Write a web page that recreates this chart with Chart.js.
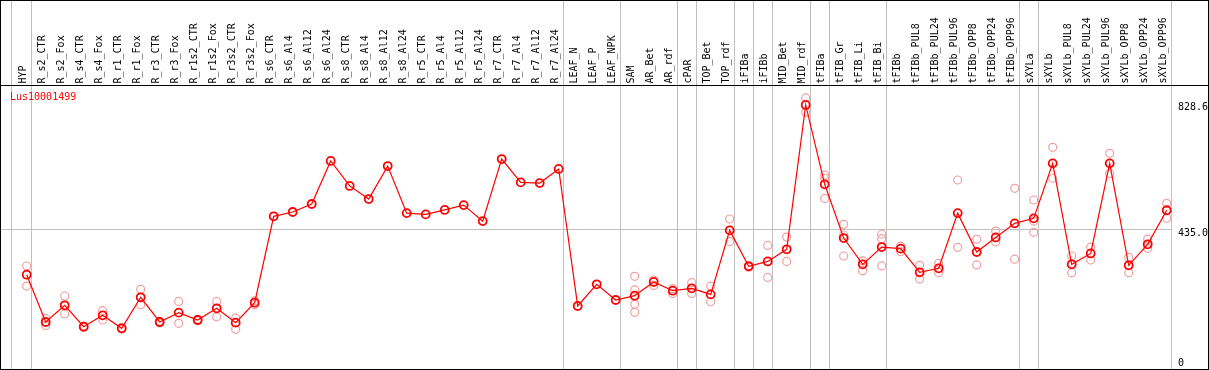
<!DOCTYPE html>
<html>
<head>
<meta charset="utf-8">
<script src="https://cdn.jsdelivr.net/npm/chart.js@4/dist/chart.umd.min.js"></script>
<style>
body{margin:0;background:#fff}
</style>
</head>
<body>
<canvas id="expChart" width="1209" height="370"></canvas>
<script>
const geneName = "Lus10001499";
const samples = ["HYP","R_s2_CTR","R_s2_Fox","R_s4_CTR","R_s4_Fox","R_r1_CTR","R_r1_Fox","R_r3_CTR","R_r3_Fox",
  "R_r1s2_CTR","R_r1s2_Fox","R_r3s2_CTR","R_r3s2_Fox","R_s6_CTR","R_s6_Al4","R_s6_Al12","R_s6_Al24",
  "R_s8_CTR","R_s8_Al4","R_s8_Al12","R_s8_Al24","R_r5_CTR","R_r5_Al4","R_r5_Al12","R_r5_Al24",
  "R_r7_CTR","R_r7_Al4","R_r7_Al12","R_r7_Al24","LEAF_N","LEAF_P","LEAF_NPK","SAM","AR_Bet","AR_rdf",
  "cPAR","TOP_Bet","TOP_rdf","iFIBa","iFIBb","MID_Bet","MID_rdf","tFIBa","tFIB_Gr","tFIB_Li","tFIB_Bi",
  "tFIBb","tFIBb_PUL8","tFIBb_PUL24","tFIBb_PUL96","tFIBb_OPP8","tFIBb_OPP24","tFIBb_OPP96",
  "sXYLa","sXYLb","sXYLb_PUL8","sXYLb_PUL24","sXYLb_PUL96","sXYLb_OPP8","sXYLb_OPP24","sXYLb_OPP96"];
const means = [291.6,143.8,196,129,164.6,124,221,143.8,173,150,186.5,141.7,204,
  474,487.5,512.5,647,569,528,631,484,480,494,509,459,653,580,578,622,
  193.75,261.5,212.5,226,269,241.6,249,230,430,317.7,333,371,822,
  574,406,324,378,373,299,311.5,484,362.5,408,452,
  467.6,639.5,324,358,639.5,321,386.5,493];
const replicates = [[318.8,256],[154,133],[225,169],[131,127],[179,150],[126,122],[246,198],[146,141],[208,139.6],
  [152,148],[208,160],[156,121],[210,198],
  [],[],[],[],[],[],[],[],[],[],[],[],[],[],[],[],
  [],[],[],[286.5,244,199,174],[275,258],[248,233],[266.5,233],[256,207],[465.6,395],[320,315],[383,283],[409,333],[844,799],
  [603,593,530],[449,415.6,350],[335,304],[418,404,319],[381,364],[321,278],[327,298],[587.5,377],[402,322],[428,394],[561.5,340],
  [525,459,424],[689.6,593],[350,298],[378,337.5],[671,608],[346,298],[403,374],[514.6,468]];
// index of last sample in each group (grey separator drawn after it)
const groupEnds = [0,28,31,34,35,37,38,39,41,42,45,52,53,60];
const yTicks = [0,435.0,828.6];
const yTickLabels = ["0","435.0","828.6"];
const gridValue = 435.0;

const meanPts = means.map((v,i)=>({x:i,y:v}));
const repPts = [];
replicates.forEach((r,i)=>r.forEach(v=>repPts.push({x:i,y:v})));

const decor = {
  id:'decor',
  beforeDatasetsDraw(chart){
    const ctx = chart.ctx, xs = chart.scales.x, ys = chart.scales.y;
    const H = chart.height;
    ctx.save();
    ctx.strokeStyle = '#c0c0c0';
    ctx.lineWidth = 1;
    const lastSep = Math.round(xs.getPixelForValue(groupEnds[groupEnds.length-1])) + 4;
    const gy = Math.round(ys.getPixelForValue(gridValue)) + 0.5;
    ctx.beginPath();
    ctx.moveTo(0, gy); ctx.lineTo(lastSep, gy);
    ctx.stroke();
    const seps = [Math.round(xs.getPixelForValue(0)) - 16].concat(groupEnds.map(g=>Math.round(xs.getPixelForValue(g)) + 4));
    seps.forEach(x=>{
      ctx.beginPath();
      ctx.moveTo(x+0.5, 0); ctx.lineTo(x+0.5, H);
      ctx.stroke();
    });
    ctx.restore();
  },
  afterDraw(chart){
    const ctx = chart.ctx, xs = chart.scales.x, ys = chart.scales.y;
    const W = chart.width, H = chart.height, area = chart.chartArea;
    ctx.save();
    ctx.font = '10px "DejaVu Sans Mono"';
    ctx.fillStyle = '#000';
    samples.forEach((s,i)=>{
      const x = xs.getPixelForValue(i) - 3;
      ctx.save();
      ctx.translate(x, 83.5);
      ctx.rotate(-Math.PI/2);
      ctx.textAlign = 'left';
      ctx.textBaseline = 'middle';
      ctx.fillText(s, 0, 0);
      ctx.restore();
    });
    ctx.textAlign = 'left';
    ctx.textBaseline = 'top';
    yTicks.forEach((v,i)=>{
      let y = ys.getPixelForValue(v);
      if (y > area.bottom - 10) y = area.bottom - 10;
      ctx.fillText(yTickLabels[i], 1178, y);
    });
    ctx.fillStyle = '#ff0000';
    ctx.textBaseline = 'middle';
    ctx.fillText(geneName, 10, 97.5);
    ctx.strokeStyle = '#000';
    ctx.lineWidth = 1;
    ctx.beginPath();
    ctx.moveTo(0, area.top - 0.5); ctx.lineTo(W, area.top - 0.5);
    ctx.stroke();
    ctx.strokeRect(0.5, 0.5, W-1, H-1);
    ctx.restore();
  }
};

new Chart(document.getElementById('expChart'), {
  type: 'scatter',
  data: {
    datasets: [
      {data: meanPts, showLine: true, borderColor: '#ff0000', borderWidth: 1.2,
       pointRadius: 4, pointBorderWidth: 1.8, pointBorderColor: '#ff0000', pointBackgroundColor: 'rgba(0,0,0,0)',
       order: 1, clip: false},
      {data: repPts, showLine: false, pointRadius: 4, pointBorderWidth: 1.2,
       pointBorderColor: '#f0a0a0', pointBackgroundColor: 'rgba(0,0,0,0)', order: 2, clip: false}
    ]
  },
  options: {
    responsive: false,
    animation: false,
    layout: {autoPadding: false, padding: {top: 86, bottom: 2, left: 0, right: 0}},
    plugins: {legend: {display: false}, tooltip: {enabled: false}},
    scales: {
      x: {type: 'linear', min: -1.405, max: 62.226, display: false},
      y: {type: 'linear', min: 0, max: 881.25, display: false}
    }
  },
  plugins: [decor]
});
</script>
</body>
</html>
